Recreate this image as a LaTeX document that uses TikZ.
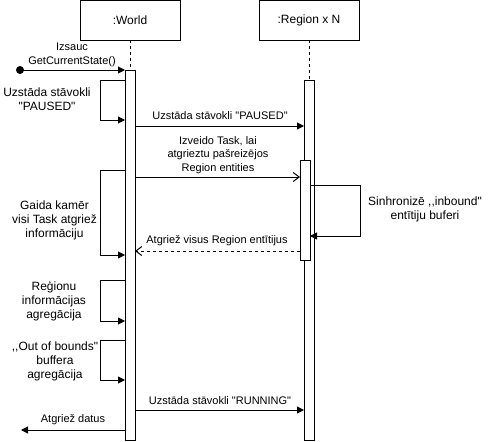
\documentclass[tikz,border=0pt]{standalone}
\usepackage{fontspec}
\setmainfont{Liberation Sans}[Ligatures=TeXOff]
\usetikzlibrary{arrows.meta}
\begin{document}
\begin{tikzpicture}[x=1pt,y=-1pt,
  every node/.style={outer sep=0pt},
  obj/.style={draw, line width=1pt, fill=white, minimum width=100pt, minimum height=40pt, inner sep=0pt, font=\fontsize{12}{14}\selectfont},
  actbar/.style={draw, line width=1pt, fill=white, minimum width=10pt, inner sep=0pt},
  lifeline/.style={line width=1pt, dash pattern=on 3pt off 3pt},
  msg/.style={line width=1pt, -{Triangle[length=7pt,width=7pt]}},
  openmsg/.style={line width=1pt, -{Straight Barb[length=6pt,width=9pt]}},
  retmsg/.style={openmsg, dash pattern=on 3pt off 3pt},
  lbl/.style={align=center, inner sep=0pt, font=\fontsize{11}{13.5}\selectfont},
  bigl/.style={align=center, inner sep=0pt, font=\fontsize{12}{14}\selectfont},
]
\useasboundingbox (0,0) rectangle (491,442);

% objects
\node[obj] (world) at (130,20) {:World};
\node[obj] (region) at (309,20) {:Region x N};

% activation bars
\node[actbar, minimum height=370pt] (wbar) at (130,255) {};
\node[actbar, minimum height=360pt] (rbar) at (309,260) {};
\node[actbar, minimum height=100pt] (ibar) at (305,210) {};

% lifelines
\draw[lifeline] (world.south) -- (wbar.north);
\draw[lifeline] (region.south) -- (rbar.north);

% initial call
\node[circle, fill, minimum size=8pt, inner sep=0pt] (start) at (20,70) {};
\draw[msg] (start.center) -- (wbar.west |- start.center);
\node[lbl] (l1) at (72,55) {Izsauc\\GetCurrentState()};

% self loop 1
\coordinate (a1) at (100,80);
\coordinate (a2) at (100,120);
\draw[msg] (wbar.west |- a1) -- (a1) -- (a2) -- (wbar.west |- a2);
\node[bigl] (l2) at (47,99) {Uzstāda stāvokli\\"PAUSED"};

% PAUSED message
\coordinate (m1) at (0,126);
\draw[msg] (wbar.east |- m1) -- (rbar.west |- m1);
\node[lbl] (l3) at (220,116) {Uzstāda stāvokli "PAUSED"};

% create task
\coordinate (m2) at (0,177);
\draw[openmsg] (wbar.east |- m2) -- (ibar.west |- m2);
\node[lbl] (l4) at (218,155) {Izveido Task, lai\\atgrieztu pašreizējos\\Region entities};

% region self loop
\coordinate (b1) at (360,185);
\coordinate (b2) at (360,236);
\draw[msg] (ibar.east |- b1) -- (b1) -- (b2) -- (ibar.east |- b2);
\node[bigl] (l5) at (425,209.5) {Sinhronizē ,,inbound"\\entītiju buferi};

% wait loop
\coordinate (c1) at (100,170);
\coordinate (c2) at (100,255);
\draw[msg] (wbar.west |- c1) -- (c1) -- (c2) -- (wbar.west |- c2);
\node[bigl] (l6) at (54.5,220) {Gaida kamēr\\visi Task atgriež\\informāciju};

% return
\coordinate (m3) at (0,251);
\draw[retmsg] (ibar.west |- m3) -- (wbar.east |- m3);
\node[lbl] (l7) at (217,241) {Atgriež visus Region entītijus};

% aggregation loop
\coordinate (d1) at (100,280);
\coordinate (d2) at (100,321);
\draw[msg] (wbar.west |- d1) -- (d1) -- (d2) -- (wbar.west |- d2);
\node[bigl] (l8) at (54,301) {Reģionu\\informācijas\\agregācija};

% out of bounds loop
\coordinate (e1) at (100,340);
\coordinate (e2) at (100,380);
\draw[msg] (wbar.west |- e1) -- (e1) -- (e2) -- (wbar.west |- e2);
\node[bigl] (l9) at (55,361) {,,Out of bounds"\\buffera\\agregācija};

% RUNNING message
\coordinate (m4) at (0,410);
\draw[msg] (wbar.east |- m4) -- (rbar.west |- m4);
\node[lbl] (l10) at (220,401) {Uzstāda stāvokli "RUNNING"};

% return data
\coordinate (endpt) at (21,430);
\draw[msg] (wbar.west |- endpt) -- (endpt);
\node[lbl] (l11) at (73,420) {Atgriež datus};
\end{tikzpicture}
\end{document}
